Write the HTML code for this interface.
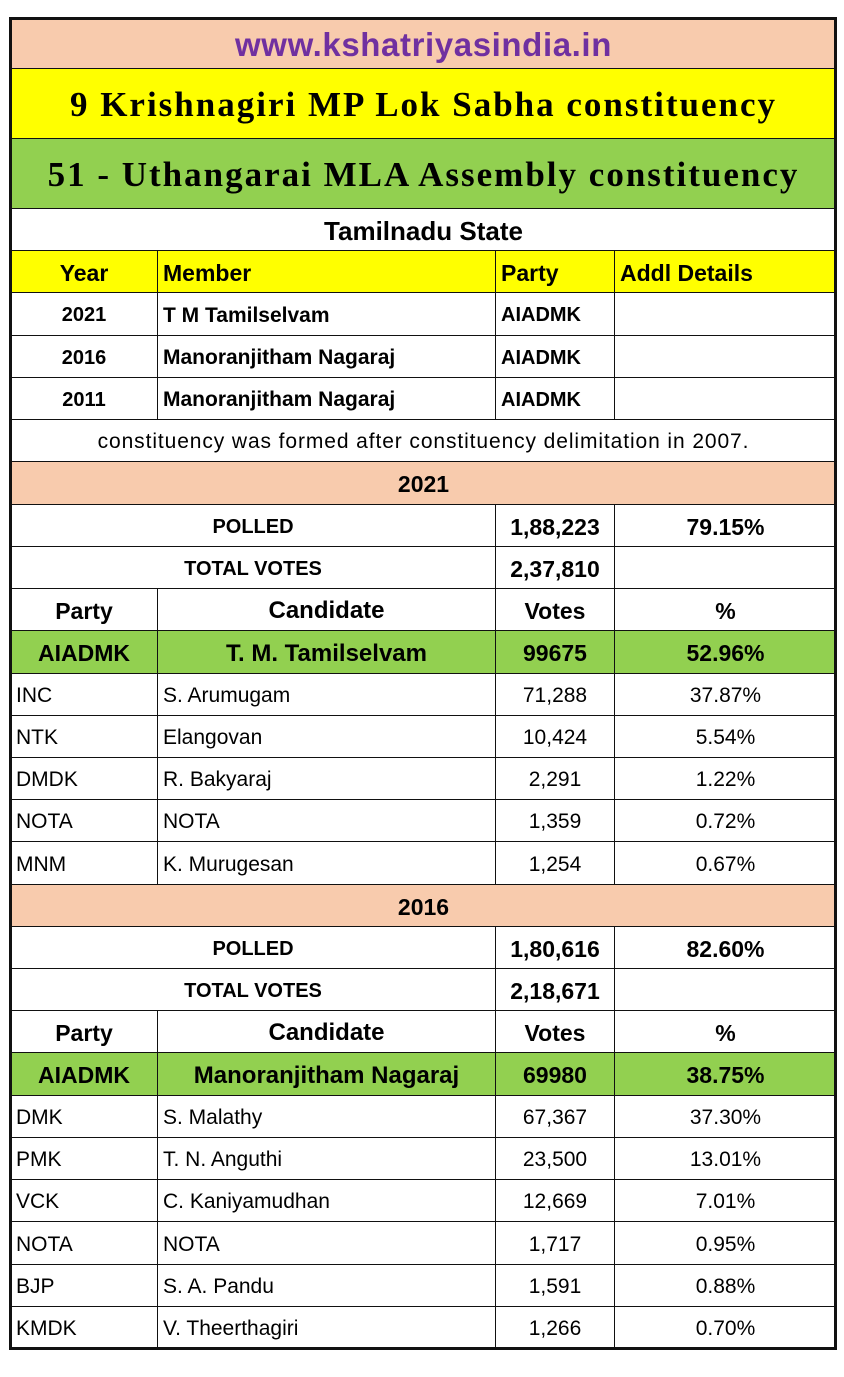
<!DOCTYPE html>
<html><head><meta charset="utf-8">
<style>
body{margin:0;width:844px;height:1377px;background:#fff;position:relative;overflow:hidden;font-family:"Liberation Sans",sans-serif;}
.c{position:absolute;box-sizing:border-box;border:1px solid #111;display:flex;align-items:center;overflow:hidden;white-space:nowrap;color:#000;padding-top:3px;}
#frame{position:absolute;left:9px;top:17px;width:828px;height:1333px;border:3px solid #111;box-sizing:border-box;pointer-events:none;}
</style></head><body>
<div id="root"></div>
<div id="frame"></div>
<script>
const X=[10,157,495,614,836];
const SERIF='"Liberation Serif",serif', SANS='"Liberation Sans",sans-serif';
// rows: [y0,y1,bg,cells]; cell: [c0,c1,text,align,size,bold,font,color,spacing]
const rows=[
[18,68,'#f8cbad',[[0,4,'www.kshatriyasindia.in','c',33,1,SANS,'#7030a0',0.6]]],
[68,138,'#ffff00',[[0,4,'9 Krishnagiri MP Lok Sabha constituency','c',35,1,SERIF,null,2]]],
[138,208,'#92d050',[[0,4,'51 - Uthangarai MLA Assembly constituency','c',35,1,SERIF,null,2]]],
[208,250,'#fff',[[0,4,'Tamilnadu State','c',26,1,SANS]]],
[250,292,'#ffff00',[[0,1,'Year','c',23,1],[1,2,'Member','l',23,1],[2,3,'Party','l',23,1],[3,4,'Addl Details','l',23,1]]],
[292,335,'#fff',[[0,1,'2021','c',20,1],[1,2,'T M Tamilselvam','l',21,1],[2,3,'AIADMK','l',20,1],[3,4,'','l',19,0]]],
[335,377,'#fff',[[0,1,'2016','c',20,1],[1,2,'Manoranjitham Nagaraj','l',21,1],[2,3,'AIADMK','l',20,1],[3,4,'','l',19,0]]],
[377,419,'#fff',[[0,1,'2011','c',20,1],[1,2,'Manoranjitham Nagaraj','l',21,1],[2,3,'AIADMK','l',20,1],[3,4,'','l',19,0]]],
[419,461,'#fff',[[0,4,'constituency was formed after constituency delimitation in 2007.','c',21,0,SANS,null,0.9]]],
[461,504,'#f8cbad',[[0,4,'2021','c',23,1]]],
[504,546,'#fff',[[0,2,'POLLED','c',20,1],[2,3,'1,88,223','c',23,1],[3,4,'79.15%','c',23,1]]],
[546,588,'#fff',[[0,2,'TOTAL VOTES','c',20,1],[2,3,'2,37,810','c',23,1],[3,4,'','c',22,1]]],
[588,630,'#fff',[[0,1,'Party','c',23,1],[1,2,'Candidate','c',24,1],[2,3,'Votes','c',23,1],[3,4,'%','c',23,1]]],
[630,673,'#92d050',[[0,1,'AIADMK','c',23,1],[1,2,'T. M. Tamilselvam','c',24,1],[2,3,'99675','c',23,1],[3,4,'52.96%','c',23,1]]],
[673,715,'#fff',[[0,1,'INC','l',21,0],[1,2,'S. Arumugam','l',21,0],[2,3,'71,288','c',21,0],[3,4,'37.87%','c',21,0]]],
[715,757,'#fff',[[0,1,'NTK','l',21,0],[1,2,'Elangovan','l',21,0],[2,3,'10,424','c',21,0],[3,4,'5.54%','c',21,0]]],
[757,799,'#fff',[[0,1,'DMDK','l',21,0],[1,2,'R. Bakyaraj','l',21,0],[2,3,'2,291','c',21,0],[3,4,'1.22%','c',21,0]]],
[799,841,'#fff',[[0,1,'NOTA','l',21,0],[1,2,'NOTA','l',21,0],[2,3,'1,359','c',21,0],[3,4,'0.72%','c',21,0]]],
[841,884,'#fff',[[0,1,'MNM','l',21,0],[1,2,'K. Murugesan','l',21,0],[2,3,'1,254','c',21,0],[3,4,'0.67%','c',21,0]]],
[884,926,'#f8cbad',[[0,4,'2016','c',23,1]]],
[926,968,'#fff',[[0,2,'POLLED','c',20,1],[2,3,'1,80,616','c',23,1],[3,4,'82.60%','c',23,1]]],
[968,1010,'#fff',[[0,2,'TOTAL VOTES','c',20,1],[2,3,'2,18,671','c',23,1],[3,4,'','c',22,1]]],
[1010,1052,'#fff',[[0,1,'Party','c',23,1],[1,2,'Candidate','c',24,1],[2,3,'Votes','c',23,1],[3,4,'%','c',23,1]]],
[1052,1095,'#92d050',[[0,1,'AIADMK','c',23,1],[1,2,'Manoranjitham Nagaraj','c',24,1],[2,3,'69980','c',23,1],[3,4,'38.75%','c',23,1]]],
[1095,1137,'#fff',[[0,1,'DMK','l',21,0],[1,2,'S. Malathy','l',21,0],[2,3,'67,367','c',21,0],[3,4,'37.30%','c',21,0]]],
[1137,1179,'#fff',[[0,1,'PMK','l',21,0],[1,2,'T. N. Anguthi','l',21,0],[2,3,'23,500','c',21,0],[3,4,'13.01%','c',21,0]]],
[1179,1221,'#fff',[[0,1,'VCK','l',21,0],[1,2,'C. Kaniyamudhan','l',21,0],[2,3,'12,669','c',21,0],[3,4,'7.01%','c',21,0]]],
[1221,1264,'#fff',[[0,1,'NOTA','l',21,0],[1,2,'NOTA','l',21,0],[2,3,'1,717','c',21,0],[3,4,'0.95%','c',21,0]]],
[1264,1306,'#fff',[[0,1,'BJP','l',21,0],[1,2,'S. A. Pandu','l',21,0],[2,3,'1,591','c',21,0],[3,4,'0.88%','c',21,0]]],
[1306,1348,'#fff',[[0,1,'KMDK','l',21,0],[1,2,'V. Theerthagiri','l',21,0],[2,3,'1,266','c',21,0],[3,4,'0.70%','c',21,0]]]
];
const root=document.getElementById('root');
rows.forEach(function(r,ri){
  r[3].forEach(function(cl,ci){
    const d=document.createElement('div');
    d.className='c';
    
    
    d.style.left=X[cl[0]]+'px';
    d.style.width=(X[cl[1]]-X[cl[0]]+1)+'px';
    d.style.top=r[0]+'px';
    d.style.height=(r[1]-r[0]+1)+'px';
    d.style.background=r[2];
    d.style.justifyContent=cl[3]==='c'?'center':'flex-start';
    d.style.paddingLeft=cl[3]==='l'?'5px':'0';
    d.style.fontSize=cl[4]+'px';
    d.style.fontWeight=cl[5]?'bold':'normal';
    d.style.fontFamily=cl[6]||SANS;
    if(cl[7]) d.style.color=cl[7];
    if(cl[8]) d.style.letterSpacing=cl[8]+'px';
    d.textContent=cl[2];
    root.appendChild(d);
  });
});
</script>
</body></html>
